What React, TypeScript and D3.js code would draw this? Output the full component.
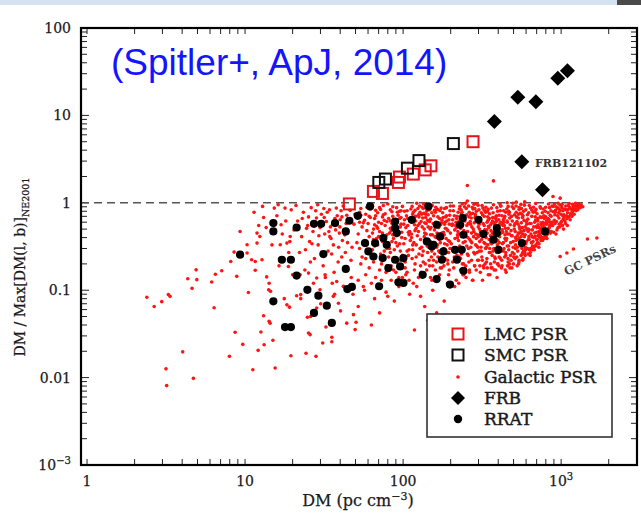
import React from 'react';
import * as d3 from 'd3';

type P = [number, number];

// Galactic pulsars: sparse low-DM tail
const galacticSparse: P[] = [
  [2.39,.083],[2.66,.065],[2.97,.074],[3.27,.089],[3.35,.085],[3.16,.0126],[3.19,.0081],[4.03,.0197],[4.71,.0098],[4.34,.135],
  [4.9,.171],[4.95,.132],[4.62,.105],[6.15,.124],[6.49,.152],[7.12,.167],[6.37,.063],[7.96,.0175],[8.65,.033],[9.67,.024],
  [8.12,.213],[8.52,.273],[8.86,.144],[9.3,.47],[10.3,.331],[10.5,.094],[11.2,.0123],[12.1,.0205],[12.6,.0333],[11.6,.169],
  [11.6,.213],[11.0,.223],[10.3,.266],[11.9,.346],[11.9,.45],[12.4,.412],[12.8,.223],[13.1,.051],[13.2,.0238],[14.2,.044],
  [14.4,.042],[14.1,.101],[14.5,.097],[15.0,.0267],[15.5,.0129],[13.7,.142],[16.2,.95],[17.9,.87],[16.7,.331],[18.4,.346],
  [19.3,.412],[18.8,.187],[18.4,.068],[19.1,.064],[19.5,.0178],[22.5,.089],[24.3,.019],[24.8,.049],[25.2,.0324],[25.8,.031],
  [28.1,.0175],[31,.0249],[35.4,.0289],[35.4,.0257],[28.4,.0626],[36.2,.085],[39,.071],[44,.042],[50.4,.043],[49.7,.0354],
  [48.5,.0525],[21.2,.0865],[22.3,.15],[25.2,.157],[28.4,.138],[32.1,.15],[29.8,.101],[38,.126],[41.9,.111]
];

// Galactic pulsars: DM 11-50
const galacticA: P[] = [
  [11.4,.78],[12.2,.55],[12.9,.91],[13.6,.52],[14.8,.33],[15.9,.71],[16.4,.19],[17.2,.44],[18.1,.62],[18.9,.27],
  [19.6,.83],[14.2,.12],[17.7,.08],[19.2,.36],[16.9,.56],[13.1,.68],[15.3,.87],[20.4,.49],[21.5,.62],[22.8,.41],
  [23.4,.78],[24.1,.29],[24.9,.55],[25.6,.36],[26.2,.88],[26.9,.47],[27.5,.23],[28.3,.67],[29.0,.33],[29.8,.52],
  [30.4,.74],[31.2,.19],[31.9,.44],[32.7,.61],[33.5,.28],[34.2,.83],[35.0,.39],[35.8,.57],[36.6,.16],[37.4,.49],
  [38.3,.71],[39.1,.31],[40.0,.64],[40.9,.24],[41.8,.92],[42.7,.43],[43.6,.58],[44.5,.35],[22.1,.27],[23.9,.17],
  [25.2,.69],[27.1,.12],[28.8,.95],[30.9,.58],[32.2,.14],[33.9,.47],[35.3,.26],[37.0,.66],[38.8,.21],[40.5,.81],
  [42.2,.11],[44.0,.72],[24.5,.51],[26.5,.34],[29.3,.42],[31.5,.86],[34.7,.53],[36.2,.33],[39.5,.45],[41.3,.37],
  [43.1,.27],[45.0,.63],[30.1,.07],[36.9,.09],[42.9,.17],[33.1,.78],[27.8,.58],[38.0,.56],[21.0,.93],[23.0,.66],
  [25.9,.21],[28.0,.81],[31.7,.68],[34.4,.41],[37.8,.87],[39.8,.53],[41.0,.69],[43.9,.45],[46.2,.82],[47.5,.31],
  [48.9,.57],[46.8,.22],[49.6,.74],[20.0,.15],[22.5,.08],[26.0,.05],[32.5,.038],[35.6,.12],[40.2,.058],[47.0,.14],[48.2,.09]
];

// Galactic pulsars: DM 50-100
const galacticB: P[] = [
  [52,.44],[67,.71],[58,.23],[91,.88],[74,.36],[55,.53],[83,.62],[61,.18],[97,.57],[70,.41],[63,.95],[88,.29],[53,.78],
  [77,.55],[94,.14],[59,.48],[81,.66],[66,.32],[72,.84],[99,.25],[56,.59],[86,.43],[64,.92],[79,.19],[51,.67],[93,.52],
  [69,.33],[75,.73],[60,.27],[84,.48],[97,.81],[57,.37],[89,.64],[65,.21],[73,.58],[95,.34],[54,.86],[82,.45],[62,.68],
  [78,.16],[99,.91],[68,.54],[87,.39],[58,.74],[76,.28],[92,.61],[53,.3],[71,.47],[85,.79],[66,.56],[96,.22],[61,.41],
  [80,.97],[57,.63],[90,.35],[74,.69],[63,.12],[98,.46],[55,.24],[83,.83],[69,.51],[87,.17],[59,.89],[77,.38],[93,.72],
  [64,.45],[72,.26],[85,.58],[51,.35],[95,.66],[67,.82],[79,.43],[60,.58],[89,.47],[76,.63],[98,.4],[54,.72],[82,.3],
  [70,.6],[92,.78],[65,.5],[86,.9],[73,.2],[58,.15],[96,.53],[62,.85],[81,.24],[68,.39],[91,.42],[75,.93],[57,.1],
  [84,.13],[66,.08],[78,.095],[94,.11],[88,.075],[52,.065],[71,.055],[99,.14],[63,.04],[80,.085],[56,.11],[73,.13],
  [90,.16],[61,.7],[86,.7],[77,.75],[95,.8],[53,.6],[69,.77],[83,.51],[59,.33],[74,.45],[92,.49],[66,.66],[88,.56],
  [79,.61],[97,.68],[71,.88],[64,.29],[85,.36],
  [54,.2],[62,.26],[71,.17],[79,.3],[88,.22],[96,.28],[58,.34],[67,.14],[75,.25],[84,.19],[92,.32],[99,.18],[52,.13],
  [65,.38],[83,.27],[91,.21]
];

// Galactic pulsars: DM 100-200
const galacticC: P[] = [
  [104,.52],[156,.71],[121,.33],[188,.88],[137,.45],[112,.62],[171,.27],[145,.94],[103,.39],[196,.57],[128,.78],[163,.21],
  [117,.67],[182,.43],[134,.86],[108,.25],[175,.59],[149,.36],[125,.73],[192,.48],[141,.17],[114,.91],[167,.54],[131,.31],
  [186,.69],[106,.81],[159,.41],[143,.63],[119,.2],[178,.77],[136,.5],[101,.34],[199,.92],[152,.28],[127,.58],[170,.66],
  [110,.47],[184,.23],[147,.83],[123,.42],[161,.6],[139,.74],[115,.29],[193,.37],[132,.89],[107,.55],[176,.45],[154,.19],
  [120,.7],[189,.62],[144,.53],[129,.38],[165,.84],[102,.64],[181,.3],[138,.96],[113,.44],[158,.49],[126,.26],[197,.72],
  [149,.65],[118,.56],[172,.35],[135,.76],[109,.13],[185,.51],[142,.32],[124,.86],[162,.4],[105,.71],[179,.68],[151,.24],
  [130,.61],[194,.27],[116,.78],[168,.52],[140,.44],[122,.99],[187,.39],[155,.58],[111,.37],[174,.87],[146,.22],[133,.67],
  [198,.81],[103,.18],[160,.78],[128,.3],[183,.57],[137,.59],[119,.48],[170,.15],[153,.93],[107,.66],[190,.33],[141,.8],
  [124,.55],[166,.69],[114,.23],[180,.46],[148,.5],[131,.74],[195,.64],[157,.35],[112,.85],[177,.25],[136,.41],[101,.57],
  [164,.45],[127,.92],[188,.71],[145,.31],[120,.62],[173,.56],[152,.77],[109,.43],[192,.2],[139,.68],[117,.35],[161,.89],
  [132,.53],[184,.6],[106,.28],[169,.38],[147,.61],[125,.47],[199,.45],[158,.82],[115,.74],[178,.42],[143,.27],[130,.16],
  [191,.12],[154,.1],[110,.09],[167,.13],[122,.11],[182,.075],[137,.065],[104,.15],[175,.18],[149,.14],[116,.12],[196,.17],
  [129,.085],[163,.055],[143,.045],[118,.035],[186,.03],[134,.21],[171,.81],[150,.52],[126,.69],[102,.8],[158,.26],[189,.5],
  [113,.6],[144,.73],[176,.63],[121,.51],[165,.33],[135,.97],[108,.46],[197,.36],[153,.43],[119,.82],[183,.86],[140,.58]
];

// Galactic pulsars: DM 200-420
const galacticD: P[] = [
  [204,.55],[318,.73],[247,.36],[392,.88],[271,.45],[226,.62],[356,.27],[298,.94],[213,.39],[409,.57],[262,.78],[337,.21],
  [235,.67],[378,.43],[284,.86],[219,.25],[364,.59],[305,.36],[253,.73],[401,.48],[290,.17],[229,.91],[347,.54],[268,.31],
  [386,.69],[208,.81],[331,.41],[295,.63],[241,.2],[371,.77],[278,.5],[202,.34],[415,.92],[312,.28],[258,.58],[352,.66],
  [222,.47],[383,.23],[302,.83],[249,.42],[340,.6],[286,.74],[232,.29],[397,.37],[274,.89],[215,.55],[367,.45],[323,.19],
  [244,.7],[390,.62],[299,.53],[264,.38],[345,.84],[206,.64],[375,.3],[281,.96],[228,.44],[328,.49],[255,.26],[405,.72],
  [307,.65],[238,.56],[359,.35],[276,.76],[217,.13],[381,.51],[293,.32],[251,.86],[335,.4],[211,.71],[369,.68],[315,.24],
  [266,.61],[399,.27],[236,.78],[349,.52],[288,.44],[248,.99],[387,.39],[321,.58],[224,.37],[362,.87],[300,.22],[270,.67],
  [412,.81],[209,.18],[333,.78],[259,.3],[379,.57],[282,.59],[242,.48],[354,.15],[316,.93],[218,.66],[395,.33],[291,.8],
  [253,.55],[343,.69],[231,.23],[373,.46],[304,.5],[268,.74],[403,.64],[325,.35],[227,.85],[366,.25],[279,.41],[205,.57],
  [341,.45],[260,.92],[389,.71],[297,.31],[246,.62],[358,.56],[313,.77],[221,.43],[398,.2],[285,.68],[240,.35],[334,.89],
  [272,.53],[384,.6],[214,.28],[350,.38],[302,.61],[256,.47],[417,.45],[327,.82],[234,.74],[370,.42],[294,.27],[263,.16],
  [393,.14],[318,.13],[225,.12],[346,.15],[250,.14],[377,.17],[283,.19],[212,.11],[361,.18],[308,.16],[239,.15],[404,.19],
  [330,.2],[275,.13],[233,.83],[287,.71],[345,.63],[396,.8],[212,.49],[257,.4],[309,.47],[363,.34],[408,.41],[220,.7],
  [267,.57],[320,.87],[380,.52],[243,.64],[296,.43],[352,.75],[413,.6],[228,.32],[277,.85],[338,.49],[391,.29],[208,.92],
  [261,.69],[314,.38],[368,.62],[231,.51],[284,.26],[342,.79],[399,.44],[216,.6],[271,.22],[326,.7],[385,.66],[245,.9],
  [303,.57],[357,.42],[406,.35],[223,.78],[280,.47],[336,.31],[392,.55],[255,1.05],[373,.95],[289,.98],[410,.97],[237,.97],
  [255,1.58],[373,1.78]
];

// Galactic pulsars: DM 420-880
const galacticE: P[] = [
  [428,.55],[612,.73],[497,.36],[845,.88],[534,.45],[455,.62],[721,.47],[586,.94],[441,.39],[868,.57],[519,.78],[665,.31],
  [473,.67],[782,.53],[561,.86],[446,.25],[746,.59],[603,.36],[507,.73],[831,.48],[572,.27],[462,.91],[698,.54],[528,.31],
  [799,.69],[433,.81],[654,.41],[583,.63],[482,.22],[760,.77],[548,.5],[425,.34],[875,.92],[621,.38],[511,.58],[712,.66],
  [450,.47],[790,.43],[597,.83],[490,.42],[680,.6],[565,.74],[466,.29],[818,.47],[543,.89],[437,.55],[738,.45],[640,.3],
  [486,.7],[808,.62],[592,.53],[523,.38],[693,.84],[431,.64],[769,.4],[557,.96],[458,.44],[657,.49],[504,.26],[852,.72],
  [615,.65],[476,.56],[728,.45],[551,.76],[443,.17],[785,.51],[580,.35],[500,.86],[671,.4],[422,.71],[752,.68],[630,.29],
  [525,.61],[826,.45],[470,.78],[702,.52],[570,.44],[495,.99],[795,.49],[645,.58],[448,.37],[740,.87],[600,.3],[536,.67],
  [862,.81],[419,.18],[666,.78],[514,.3],[774,.57],[560,.59],[482,.48],[709,.35],[628,.93],[436,.66],[812,.43],[578,.8],
  [505,.55],[686,.69],[461,.23],[756,.46],[606,.5],[537,.74],[838,.64],[649,.35],[453,.85],[733,.4],[557,.41],[427,.57],
  [681,.45],[518,.92],[778,.71],[593,.31],[491,.62],[715,.56],[624,.77],[441,.43],[803,.44],[569,.68],[479,.35],[668,.89],
  [544,.53],[766,.6],[430,.28],[700,.38],[603,.61],[512,.47],[858,.55],[654,.82],[467,.74],[741,.42],[588,.27],[527,.19],
  [791,.4],[636,.25],[449,.16],[693,.33],[499,.2],[763,.37],[575,.23],[423,.19],[722,.31],[617,.26],[474,.18],[813,.39],
  [659,.29],[541,.21],[465,.8],[574,.71],[690,.63],[792,.8],[424,.49],[514,.4],[618,.47],[726,.52],[846,.6],[440,.7],
  [534,.57],[640,.87],[760,.52],[456,.32],[592,.43],[704,.75],[826,.77],[456,.6],[542,.84],[628,.49],[736,.69],[864,.7],
  [415,.92],[522,.69],[628,.38],[736,.9],[462,.51],[568,.26],[684,.79],[798,.89],[432,.6],[542,.22],[652,.7],[770,.85],
  [490,.9],[606,.57],[714,.42],[812,.57],[446,.78],[560,.47],[672,.31],[784,.66],[520,1.02],[690,.98],[588,1.03],[832,.97],
  [455,1.0]
];

// Galactic pulsars: DM 880-1400
const galacticF: P[] = [
  [884,.55],[912,.73],[897,.46],[945,.88],[934,.61],[955,.52],[921,.82],[986,.94],[941,.49],[968,.67],[919,.78],[1005,.61],
  [973,.57],[1042,.73],[961,.86],[996,.59],[1046,.69],[1013,.96],[1077,.83],[1031,.65],[892,.91],[998,.74],[1028,.81],
  [1099,.77],[1058,.62],[1133,.88],[1083,.71],[1112,.93],[1165,.84],[1146,.72],[1190,.9],[1178,.79],[1225,.92],[1214,.86],
  [1263,.95],[1248,.89],[1302,.93],[1285,.97],[1338,.95],[1371,.9],[905,.63],[927,.44],[950,.71],[979,.53],[1020,.55],
  [1065,.58],[1090,.66],[1121,.69],[1155,.76],[1201,.83],[1240,.81],[908,.97],[958,.99],[1010,.88],[1070,.92],[1125,.98],
  [1180,.96],[1232,.99],[1290,.88],[890,.79],[930,.9],[965,.77],[1035,.5],[1052,.85],[1095,.55],[1140,.64],[1208,.74],
  [1275,.83],[1320,.88],[915,.58],[985,.82],[1024,.71],[1105,.84],[1170,.7],[1260,.9],[888,1.18],[986,1.13]
];

// Galactic pulsars: dense core, DM 100-900
const galacticCore: P[] = [
  [103,.21],[118,.17],[132,.25],[147,.19],[163,.31],[179,.23],[194,.15],[109,.29],[125,.14],[141,.36],[156,.22],[172,.18],
  [187,.27],[113,.4],[129,.19],[152,.13],[168,.28],[183,.34],[106,.16],[121,.24],[138,.2],[160,.17],[176,.39],[191,.22],
  [115,.33],[134,.28],[149,.43],[166,.24],[181,.19],[198,.3],
  [206,.21],[231,.17],[258,.25],[284,.19],[311,.31],[339,.23],[366,.18],[392,.27],[215,.29],[242,.15],[269,.36],[296,.22],
  [324,.18],[351,.27],[378,.21],[405,.24],[221,.4],[249,.19],[276,.13],[303,.28],[331,.34],[358,.2],[385,.17],[211,.24],
  [237,.2],[263,.17],[290,.39],[317,.22],[344,.33],[371,.28],[398,.43],[226,.24],[253,.32],[280,.27],[306,.19],[333,.3],
  [360,.48],[387,.36],[413,.23],[218,.52],[245,.44],[272,.35],[299,.41],[326,.55],[353,.3],[380,.24],[407,.31],[234,.26],
  [261,.21],[288,.33],[314,.46],[341,.18],[368,.4],[395,.2],
  [421,.22],[446,.27],[471,.2],[497,.31],[524,.24],[552,.36],[579,.28],[431,.35],[458,.19],[484,.42],[511,.23],[538,.2],
  [565,.3],[592,.25],[439,.24],[465,.32],[492,.27],[518,.37],[545,.45],[571,.22],[598,.34],[426,.46],[452,.39],[478,.25],
  [505,.5],[531,.28],[558,.25],[585,.41],[435,.3],[462,.21],[488,.18],[515,.33],[541,.39],[568,.52],[595,.29],[444,.51],
  [470,.44],[501,.24],[528,.42],[555,.32],[582,.48],
  [612,.3],[638,.27],[664,.36],[691,.32],[718,.42],[745,.37],[773,.45],[802,.41],[833,.5],[866,.47],[625,.41],[651,.35],
  [677,.29],[704,.38],[731,.47],[759,.4],[788,.5],[817,.44],[849,.55],[618,.5],[644,.44],[671,.53],[697,.46],[724,.34],
  [752,.56],[780,.39],[809,.61],[841,.52],[874,.6],[632,.58],[658,.32],[684,.41],[711,.62],[738,.51],[766,.48],[795,.58],
  [825,.66],[857,.45]
];

// Globular-cluster pulsars (lower right)
const gcPsrs: P[] = [[986,.243],[1087,.266],[1196,.296],[1467,.385],[1683,.395]];

const lmcPsr: P[] = [[277,5.0],[150,2.65],[138,2.38],[116,2.13],[94.8,1.97],[93.4,1.71],[74,1.28],[64.9,1.35],[45.7,0.97]];
const smcPsr: P[] = [[208,4.76],[126,3.04],[106.5,2.49],[77.3,1.87],[70.2,1.71]];
const frb: P[] = [[378,8.5],[532,16.1],[692,14.3],[953,26.6],[1096,32.5],[564,2.94],[762,1.41]];
const rrat: P[] = [
  [9.3,.255],[15.1,.586],[15.1,.47],[21.2,.522],[27.3,.575],[30.3,.575],[37.1,.586],[45.7,.623],[43.4,.47],[51.7,.71],
  [17.1,.223],[19.5,.223],[31.3,.259],[21.2,.147],[43.4,.175],[24.8,.101],[29.1,.0865],[44.4,.103],[47.4,.109],[15.1,.0745],
  [32.9,.0665],[27.3,.0549],[35.4,.0422],[17.9,.0379],[19.5,.0379],[61.8,.908],[144.5,.908],[89,.611],[89,.514],[91.2,.451],
  [113.5,.639],[163.4,.561],[238.6,.668],[229.6,.561],[300,.639],[392,.514],[392,.451],[322,.439],[792,.47],[241,.431],
  [171.5,.412],[141.3,.361],[155.5,.331],[75,.395],[78.8,.331],[66.5,.346],[57.4,.346],[60.3,.278],[64.9,.243],[74.3,.233],
  [89,.223],[100.5,.233],[80.7,.179],[95.7,.187],[152,.317],[180,.278],[213,.29],[235,.29],[219,.223],[176,.223],
  [241,.167],[373,.378],[401,.29],[564,.346],[133,.15],[163,.134],[198,.116],[93.4,.123],[100.5,.121],[70.5,.111]
];

const xMajorTicks = [1, 10, 100, 1000];
const xMajorLabels = ['1', '10', '100', '10^3'];
const yMajorTicks = [0.001, 0.01, 0.1, 1, 10, 100];
const yMajorLabels = ['10^-3', '0.01', '0.1', '1', '10', '100'];
const legendLabels = ['LMC PSR', 'SMC PSR', 'Galactic PSR', 'FRB', 'RRAT'];

const SERIF = '"DejaVu Serif", serif';

function PowLabel({ text, fontSize }: { text: string; fontSize: number }) {
  if (text.includes('^')) {
    const [b, e] = text.split('^');
    return (
      <>
        {b}
        <tspan dy={-fontSize * 0.45} fontSize={fontSize * 0.72}>{e.replace('-', '−')}</tspan>
      </>
    );
  }
  return <>{text}</>;
}

export default function App() {
  const L = 81, R = 637, T = 28, B = 465;
  const x = d3.scaleLog().domain([0.916, 3020]).range([L, R]);
  const y = d3.scaleLog().domain([0.001, 100]).range([B, T]);
  const xTicks = x.ticks().filter((v) => x(v) > L + 1 && x(v) < R - 1);
  const yTicks = y.ticks().filter((v) => y(v) > T + 1 && y(v) < B - 1);
  const isMajor = (v: number) => Math.abs(Math.log10(v) - Math.round(Math.log10(v))) < 1e-6;

  const galactic = [...galacticSparse, ...galacticA, ...galacticB, ...galacticC, ...galacticCore, ...galacticD, ...galacticE, ...galacticF, ...gcPsrs];
  const red = '#ff1414';
  const diamond = (r: number) => `M0,${-r}L${r},0L0,${r}L${-r},0Z`;
  const sq = 11;

  const legX = 458;
  const legRows = [334, 355, 377, 398, 419];

  return (
    <svg width={641} height={514} style={{ position: 'absolute', left: 0, top: 0, background: '#fff' }}>
      <rect x={0} y={0} width={641} height={514} fill="#fff" />
      <rect x={0} y={0} width={641} height={5} fill="#d5e3f1" />
      <rect x={617} y={0} width={24} height={5} fill="#4a4a4a" />

      {/* ticks */}
      <g stroke="#222" strokeWidth={1}>
        {xTicks.map((v, i) => (
          <g key={'xt' + i}>
            <line x1={x(v)} x2={x(v)} y1={B} y2={B - 6} />
            <line x1={x(v)} x2={x(v)} y1={T} y2={T + 6} />
          </g>
        ))}
        {yTicks.map((v, i) => {
          const len = isMajor(v) ? 8 : 6;
          return (
            <g key={'yt' + i}>
              <line x1={L} x2={L + len} y1={y(v)} y2={y(v)} />
              <line x1={R} x2={R - len} y1={y(v)} y2={y(v)} />
            </g>
          );
        })}
      </g>

      {/* dashed line at ratio 1 */}
      <line x1={L} x2={R} y1={y(1)} y2={y(1)} stroke="#555" strokeWidth={1.6} strokeDasharray="8,5" />

      {/* galactic pulsars */}
      <g fill={red}>
        {galactic.map((d, i) => (
          <circle key={'g' + i} cx={x(d[0])} cy={y(d[1])} r={1.8} />
        ))}
      </g>

      {/* RRATs */}
      <g fill="#000">
        {rrat.map((d, i) => (
          <circle key={'r' + i} cx={x(d[0])} cy={y(d[1])} r={4.1} />
        ))}
      </g>

      {/* LMC */}
      <g fill="none" stroke="#e8121a" strokeWidth={2}>
        {lmcPsr.map((d, i) => (
          <rect key={'l' + i} x={x(d[0]) - sq / 2} y={y(d[1]) - sq / 2} width={sq} height={sq} />
        ))}
      </g>
      {/* SMC */}
      <g fill="none" stroke="#111" strokeWidth={2}>
        {smcPsr.map((d, i) => (
          <rect key={'s' + i} x={x(d[0]) - sq / 2} y={y(d[1]) - sq / 2} width={sq} height={sq} />
        ))}
      </g>
      {/* FRB */}
      <g fill="#000">
        {frb.map((d, i) => (
          <path key={'f' + i} d={diamond(7.5)} transform={`translate(${x(d[0])},${y(d[1])})`} />
        ))}
      </g>

      <text x={535} y={163} dominantBaseline="central" fontFamily={SERIF} fontWeight="bold" fontSize={11} fill="#333">FRB121102</text>
      <text transform="translate(590,260) rotate(-26)" textAnchor="middle" dominantBaseline="central" fontFamily={SERIF} fontWeight="bold" fontSize={11.5} fill="#444">GC PSRs</text>

      {/* frame */}
      <rect x={L} y={T} width={R - L} height={B - T} fill="none" stroke="#000" strokeWidth={2.2} />

      {/* tick labels */}
      <g fontFamily={SERIF} fontSize={14} fill="#1a1a1a" stroke="#1a1a1a" strokeWidth={0.25}>
        {xMajorTicks.map((v, i) => (
          <text key={'xl' + i} x={x(v)} y={486} textAnchor="middle">
            <PowLabel text={xMajorLabels[i]} fontSize={14} />
          </text>
        ))}
        {yMajorTicks.map((v, i) => (
          <text key={'yl' + i} x={71} y={y(v) + 5} textAnchor="end">
            <PowLabel text={yMajorLabels[i]} fontSize={14} />
          </text>
        ))}
      </g>

      {/* axis titles */}
      <text x={358} y={506} textAnchor="middle" fontFamily={SERIF} fontSize={16} fill="#1a1a1a" stroke="#1a1a1a" strokeWidth={0.25}>
        DM (pc cm<tspan dy={-6} fontSize={11}>−3</tspan><tspan dy={6}>)</tspan>
      </text>
      <text transform="translate(25,267) rotate(-90)" textAnchor="middle" fontFamily={SERIF} fontSize={14} fill="#1a1a1a" stroke="#1a1a1a" strokeWidth={0.25}>
        DM / Max[DM(l, b)]<tspan dy={4} fontSize={9.5}>NE2001</tspan>
      </text>

      {/* title */}
      <text x={111} y={75} fontFamily='"Liberation Sans", Arial, sans-serif' fontSize={37} fill="#1414ff">(Spitler+, ApJ, 2014)</text>

      {/* legend */}
      <rect x={427} y={314} width={185} height={123} fill="#fff" stroke="#333" strokeWidth={1.6} />
      <rect x={legX - sq / 2} y={legRows[0] - sq / 2} width={sq} height={sq} fill="none" stroke="#e8121a" strokeWidth={2} />
      <rect x={legX - sq / 2} y={legRows[1] - sq / 2} width={sq} height={sq} fill="none" stroke="#111" strokeWidth={2} />
      <circle cx={legX} cy={legRows[2]} r={1.8} fill={red} />
      <path d={diamond(7)} transform={`translate(${legX},${legRows[3]})`} fill="#000" />
      <circle cx={legX} cy={legRows[4]} r={4.2} fill="#000" />
      <g fontFamily={SERIF} fontSize={17} fill="#1a1a1a" stroke="#1a1a1a" strokeWidth={0.45}>
        {legendLabels.map((t, i) => (
          <text key={'lg' + i} x={484} y={legRows[i]} dominantBaseline="central">{t}</text>
        ))}
      </g>
    </svg>
  );
}
